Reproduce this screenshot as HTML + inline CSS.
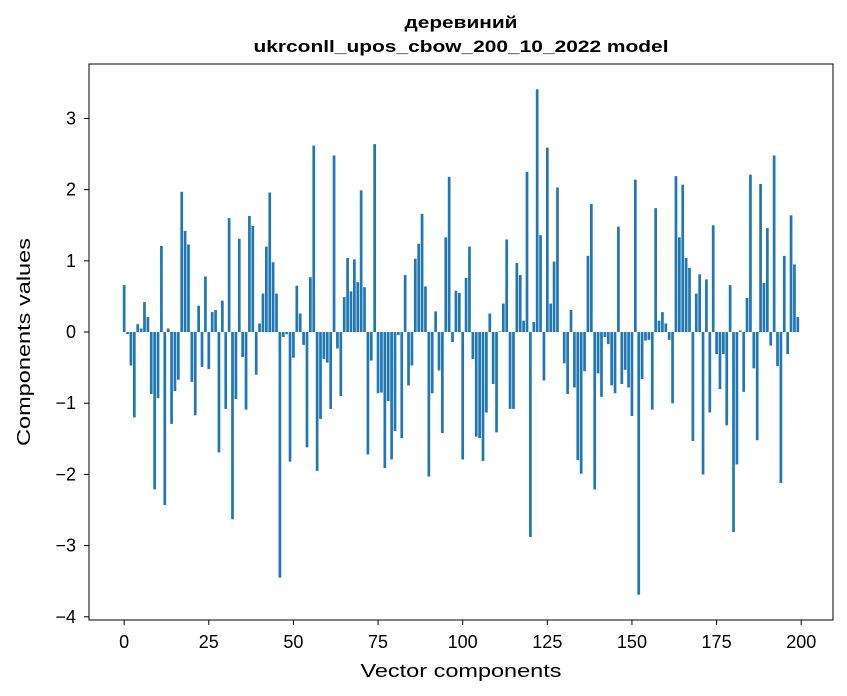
<!DOCTYPE html>
<html><head><meta charset="utf-8"><style>
html,body{margin:0;padding:0;background:#fff;}
svg{display:block;font-family:"Liberation Sans","DejaVu Sans",sans-serif;}
</style></head><body>
<svg id="chart" width="847" height="696" viewBox="0 0 847 696" xmlns="http://www.w3.org/2000/svg">
<rect x="0" y="0" width="847" height="696" fill="#fff"/>
<text x="461" y="28" text-anchor="middle" font-size="17" font-weight="bold" textLength="113" lengthAdjust="spacingAndGlyphs">деревиний</text>
<text x="461" y="52" text-anchor="middle" font-size="17" font-weight="bold" textLength="415" lengthAdjust="spacingAndGlyphs">ukrconll_upos_cbow_200_10_2022 model</text>
<g id="bars"></g>
<g id="xticks"></g>
<g id="yticks"></g>
<rect x="89" y="64" width="744" height="556" fill="none" stroke="#000" stroke-width="1"/>
<text x="461" y="677" text-anchor="middle" font-size="18" textLength="201" lengthAdjust="spacingAndGlyphs">Vector components</text>
<text transform="translate(30,342) rotate(-90)" text-anchor="middle" font-size="18" textLength="208" lengthAdjust="spacingAndGlyphs">Components values</text>
</svg>
<script>
const values = [0.66,-0.03,-0.47,-1.2,0.11,0.05,0.42,0.21,-0.87,-2.21,-0.93,1.21,-2.43,0.05,-1.29,-0.83,-0.67,1.97,1.42,1.23,-0.7,-1.17,0.37,-0.49,0.78,-0.52,0.28,0.31,-1.69,0.44,-1.08,1.6,-2.63,-0.94,1.31,-0.35,-1.09,1.63,1.49,-0.6,0.12,0.54,1.2,1.96,0.98,0.54,-3.45,-0.07,-0.03,-1.82,
-0.36,0.65,0.26,-0.18,-1.62,0.77,2.62,-1.95,-1.22,-0.38,-0.43,-1.08,2.48,-0.23,-0.9,0.49,1.04,0.57,1.02,0.7,1.99,0.63,-1.72,-0.4,2.64,-0.86,-0.85,-1.91,-0.97,-1.79,-1.39,-0.04,-1.49,0.8,-0.75,-0.47,1.03,1.24,1.66,0.64,-2.03,-0.86,0.29,-0.54,-1.42,1.33,2.18,-0.14,0.58,0.55,
-1.79,0.76,1.2,-0.38,-1.47,-1.49,-1.81,-1.13,0.26,-0.73,-1.41,0.01,0.4,1.3,-1.08,-1.08,0.97,0.8,0.16,2.25,-2.88,0.14,3.41,1.36,-0.68,2.59,0.4,0.99,2.03,0.0,-0.44,-0.87,0.31,-0.78,-1.8,-1.99,-0.55,1.07,1.8,-2.21,-0.58,-0.91,-0.07,-0.17,-0.75,-0.86,1.48,-0.73,-0.53,-0.78,
-1.18,2.14,-3.69,-0.66,-0.12,-0.11,-1.09,1.74,0.16,0.28,0.12,-0.11,-1.0,2.19,1.33,2.07,1.04,0.9,-1.53,0.54,0.81,-2.0,0.74,-1.13,1.5,-0.31,-0.8,-0.31,-1.31,0.66,-2.81,-1.86,0.02,-0.84,0.48,2.21,-0.51,-1.52,2.08,0.69,1.46,-0.19,2.48,-0.48,-2.12,1.07,-0.31,1.64,0.95,0.21];
const xTickLabels = [0,25,50,75,100,125,150,175,200];
const yTickLabels = [-4,-3,-2,-1,0,1,2,3];

const L=89,R=833,T=64,B=620,NS="http://www.w3.org/2000/svg";
const xmin=-0.4-0.05*(values.length-1+0.8), xmax=values.length-1+0.4+0.05*(values.length-1+0.8);
let vmin=Math.min(0,...values), vmax=Math.max(0,...values);
const pad=0.05*(vmax-vmin); const ymin=vmin-pad, ymax=vmax+pad;
function xs(v){return L+(v-xmin)/(xmax-xmin)*(R-L);}
function ys(v){return B-(v-ymin)/(ymax-ymin)*(B-T);}
const bars=document.getElementById('bars');
values.forEach((v,i)=>{
  const r=document.createElementNS(NS,'rect');
  const x0=xs(i-0.4), x1=xs(i+0.4);
  r.setAttribute('x',x0); r.setAttribute('width',x1-x0);
  r.setAttribute('y',Math.min(ys(v),ys(0))); r.setAttribute('height',Math.abs(ys(v)-ys(0)));
  r.setAttribute('fill','#1f77b4');
  
  
  bars.appendChild(r);
});
const xg=document.getElementById('xticks');
xTickLabels.forEach(t=>{
  const x=xs(t);
  const l=document.createElementNS(NS,'line');
  l.setAttribute('x1',x);l.setAttribute('x2',x);l.setAttribute('y1',B);l.setAttribute('y2',B+5);l.setAttribute('stroke','#000');
  
  
  xg.appendChild(l);
  const tx=document.createElementNS(NS,'text');
  tx.setAttribute('x',x);tx.setAttribute('y',B+28);tx.setAttribute('text-anchor','middle');tx.setAttribute('font-size','18');
  tx.textContent=t;
  
  
  xg.appendChild(tx);
});
const yg=document.getElementById('yticks');
yTickLabels.forEach(t=>{
  const y=ys(t);
  const l=document.createElementNS(NS,'line');
  l.setAttribute('x1',L-5);l.setAttribute('x2',L);l.setAttribute('y1',y);l.setAttribute('y2',y);l.setAttribute('stroke','#000');
  
  
  yg.appendChild(l);
  const tx=document.createElementNS(NS,'text');
  tx.setAttribute('x',L-13);tx.setAttribute('y',y+6);tx.setAttribute('text-anchor','end');tx.setAttribute('font-size','18');
  tx.textContent=t<0?'\u2212'+Math.abs(t):String(t);
  
  
  yg.appendChild(tx);
});
</script>
</body></html>
